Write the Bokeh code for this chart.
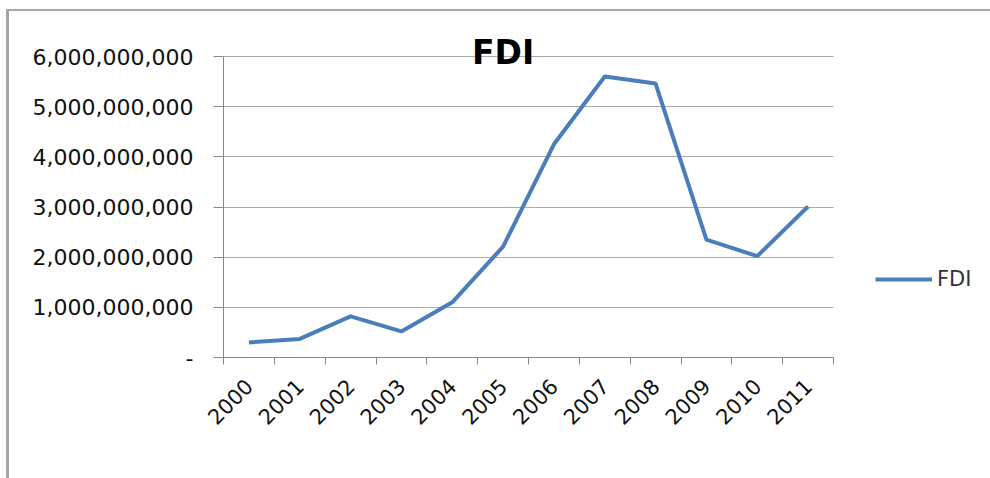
import math
from bokeh.plotting import figure
from bokeh.layouts import column
from bokeh.models import FixedTicker, Legend, LegendItem, Label, ColumnDataSource
from bokeh.embed import file_html
from bokeh.resources import INLINE

years = ["2000", "2001", "2002", "2003", "2004", "2005",
         "2006", "2007", "2008", "2009", "2010", "2011"]
fdi = [0.30e9, 0.37e9, 0.82e9, 0.52e9, 1.10e9, 2.21e9,
       4.25e9, 5.60e9, 5.46e9, 2.35e9, 2.02e9, 3.01e9]
y_ticks = [0, 1e9, 2e9, 3e9, 4e9, 5e9, 6e9]
y_tick_labels = ["-", "1,000,000,000", "2,000,000,000", "3,000,000,000",
                 "4,000,000,000", "5,000,000,000", "6,000,000,000"]
series_name = "FDI"
title_text = "FDI"

n = len(years)
xpos = [i + 0.5 for i in range(n)]
src = ColumnDataSource(dict(x=xpos, y=fdi))

W, H = 981, 467
LEFT, BOTTOM = 214, 121
# frame extends past the axes (to hold title + legend); axes bounded to data area
X_END = n * (W - LEFT) / 610
Y_END = 6e9 * (H - BOTTOM) / 301

p = figure(width=W, height=H, output_backend="svg", toolbar_location=None,
           x_range=(0, X_END), y_range=(0, Y_END),
           min_border_left=LEFT, min_border_right=0,
           min_border_top=0, min_border_bottom=BOTTOM)
p.outline_line_color = None
p.background_fill_color = "white"
p.border_fill_color = "white"

r = p.line("x", "y", source=src, line_color="#4a7ebb", line_width=4)

# x axis
p.xaxis.bounds = (0, n)
p.xaxis.ticker = FixedTicker(ticks=xpos, minor_ticks=list(range(n + 1)))
p.xaxis.major_label_overrides = {x: y for x, y in zip(xpos, years)}
p.xaxis.major_tick_line_color = None
p.xaxis.minor_tick_line_color = "#868686"
p.xaxis.minor_tick_out = 7
p.xaxis.minor_tick_in = 0
p.xaxis.axis_line_color = "#868686"
p.xaxis.major_label_orientation = math.pi / 4
p.xaxis.major_label_text_font = "DejaVu Sans"
p.xaxis.major_label_text_font_size = "21px"
p.xaxis.major_label_text_color = "#111111"
p.xaxis.major_label_standoff = 18
p.xgrid.grid_line_color = None

# y axis
p.yaxis.bounds = (0, 6e9)
p.yaxis.ticker = FixedTicker(ticks=y_ticks)
p.yaxis.major_label_overrides = {t: l for t, l in zip(y_ticks, y_tick_labels)}
p.yaxis.axis_line_color = "#868686"
p.yaxis.major_tick_line_color = "#868686"
p.yaxis.major_tick_out = 10
p.yaxis.major_tick_in = 0
p.yaxis.minor_tick_line_color = None
p.yaxis.major_label_standoff = 20
p.yaxis.major_label_text_font = "DejaVu Sans"
p.yaxis.major_label_text_font_size = "22px"
p.yaxis.major_label_text_color = "#111111"
p.ygrid.grid_line_color = "#aaaaaa"
p.ygrid.ticker = FixedTicker(ticks=y_ticks)
p.ygrid.cross_bounds = (0, n)

# title overlapping the plot area (Excel style)
t = Label(x=5.5, y=6e9, text=title_text, text_align="center",
          text_baseline="alphabetic", y_offset=4,
          text_font="DejaVu Sans", text_font_style="bold",
          text_font_size="33px", text_color="#000000")
p.add_layout(t)

legend = Legend(items=[LegendItem(label=series_name, renderers=[r])],
                location=(652, 66), orientation="vertical",
                glyph_width=57, glyph_height=20, label_height=20,
                label_standoff=5, padding=0, margin=0, spacing=0,
                label_text_font="DejaVu Sans", label_text_font_size="21px",
                label_text_color="#333333",
                border_line_color=None, background_fill_alpha=0)
p.add_layout(legend, "center")

layout = column(p, styles={"border-left": "3px solid #a6a6a6",
                           "border-top": "2px solid #a6a6a6",
                           "margin-left": "6px", "margin-top": "9px"})

open("out.html", "w").write(file_html(layout, INLINE))
